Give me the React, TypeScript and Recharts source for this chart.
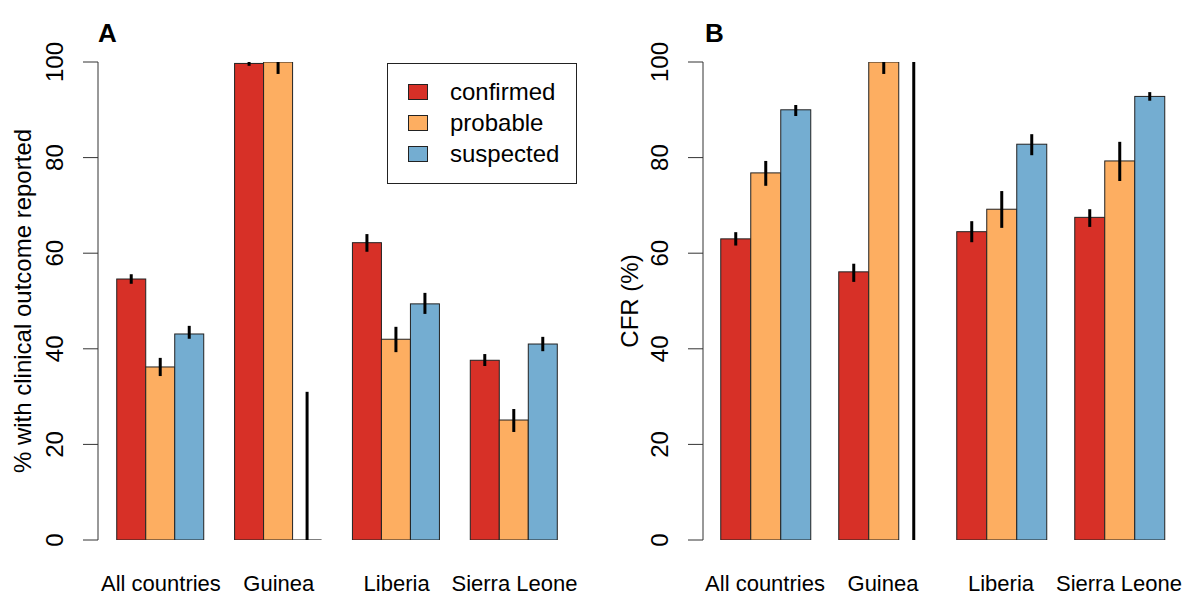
import React from 'react';
import { BarChart, Bar, XAxis, YAxis, ErrorBar, Legend } from 'recharts';

const countries = ['All countries', 'Guinea', 'Liberia', 'Sierra Leone'];
const seriesKeys = ['confirmed', 'probable', 'suspected'];
const seriesColors = ['#D73027', '#FDAE61', '#74ADD1'];
const yTicks = [0, 20, 40, 60, 80, 100];

// panel A: % with clinical outcome reported, with [low, high] intervals
const reportedConfirmed = [54.6, 99.7, 62.2, 37.6];
const reportedConfirmedCI = [[53.6, 55.6], [99.2, 100], [60.3, 64.0], [36.4, 38.9]];
const reportedProbable = [36.2, 100, 42.0, 25.1];
const reportedProbableCI = [[34.3, 38.1], [97.5, 100], [39.3, 44.6], [22.6, 27.4]];
const reportedSuspected = [43.1, 0, 49.4, 41.0];
const reportedSuspectedCI = [[42.1, 44.8], [0, 31], [47.3, 51.7], [39.5, 42.5]];

// panel B: CFR (%)
const cfrConfirmed = [63.0, 56.1, 64.5, 67.5];
const cfrConfirmedCI = [[61.6, 64.4], [54.0, 57.8], [62.3, 66.7], [65.5, 69.2]];
const cfrProbable = [76.8, 100, 69.2, 79.3];
const cfrProbableCI = [[74.1, 79.3], [97.5, 100], [65.3, 73.0], [75.1, 83.3]];
const cfrSuspected = [90.0, 0, 82.8, 92.8];
const cfrSuspectedCI = [[88.7, 91.0], [0, 100], [80.5, 84.9], [91.9, 93.7]];

function buildRows(vals: number[][], cis: number[][][]) {
  return countries.map((country, i) => {
    const row: any = { country };
    seriesKeys.forEach((k, j) => {
      const v = vals[j][i];
      row[k] = v;
      row[k + 'Err'] = [v - cis[j][i][0], cis[j][i][1] - v];
    });
    return row;
  });
}

const reportedRows = buildRows(
  [reportedConfirmed, reportedProbable, reportedSuspected],
  [reportedConfirmedCI, reportedProbableCI, reportedSuspectedCI]
);
const cfrRows = buildRows(
  [cfrConfirmed, cfrProbable, cfrSuspected],
  [cfrConfirmedCI, cfrProbableCI, cfrSuspectedCI]
);

const FONT = '"Liberation Sans", Arial, sans-serif';

const makeShape = (drawEmpty: boolean) => (props: any) => {
  const { x, y, width, height, fill } = props;
  if (!height) {
    return drawEmpty ? (
      <line x1={x} x2={x + width} y1={y} y2={y} stroke="#555" strokeWidth={1.5} />
    ) : (
      <g />
    );
  }
  return <rect x={x} y={y} width={width} height={height} fill={fill} stroke="#222" strokeWidth={1} />;
};

const YTick = (props: any) => {
  const { x, y, payload } = props;
  return (
    <text x={x} y={y} transform={`rotate(-90, ${x}, ${y})`} textAnchor="middle" fontSize={24} fill="#000">
      {payload.value}
    </text>
  );
};

const XTick = (props: any) => {
  const { x, y, payload } = props;
  return (
    <text x={x} y={y + 51} textAnchor="middle" fontSize={22} fill="#000">
      {payload.value}
    </text>
  );
};

const LegendBox = (props: any) => (
  <div
    style={{
      width: 190,
      height: 121,
      border: '1px solid #222',
      boxSizing: 'border-box',
      paddingTop: 12,
      paddingLeft: 20,
      background: '#fff',
    }}
  >
    {(props.payload || []).map((p: any) => (
      <div key={p.value} style={{ display: 'flex', alignItems: 'center', height: 31 }}>
        <div style={{ width: 20, height: 16, background: p.color, border: '1px solid #222', boxSizing: 'border-box' }} />
        <span style={{ marginLeft: 22, fontSize: 24, color: '#000', lineHeight: '24px' }}>{p.value}</span>
      </div>
    ))}
  </div>
);

function Panel({ rows, axisWidth, width, rightMargin, padLeft, showLegend, drawEmpty }: any) {
  return (
    <BarChart
      width={width}
      height={597}
      data={rows}
      margin={{ top: 62, right: rightMargin, bottom: 0, left: 0 }}
      barCategoryGap="12.5%"
      barGap={0}
    >
      <XAxis
        dataKey="country"
        axisLine={false}
        tickLine={false}
        tickSize={0}
        tickMargin={0}
        height={57}
        interval={0}
        padding={{ left: padLeft, right: 0 }}
        tick={<XTick />}
      />
      <YAxis
        type="number"
        domain={[0, 100]}
        allowDataOverflow
        ticks={yTicks}
        width={axisWidth}
        tickSize={15}
        tickMargin={20}
        axisLine={{ stroke: '#333', strokeWidth: 1 }}
        tickLine={{ stroke: '#333', strokeWidth: 1 }}
        tick={<YTick />}
      />
      {showLegend && (
        <Legend
          layout="horizontal"
          verticalAlign="middle"
          align="center"
          wrapperStyle={{ position: 'absolute', top: 63, left: 387, width: 190, height: 121 }}
          content={<LegendBox />}
        />
      )}
      {seriesKeys.map((k, i) => (
        <Bar
          key={k}
          dataKey={k}
          name={k}
          fill={seriesColors[i]}
          isAnimationActive={false}
          shape={makeShape(drawEmpty)}
        >
          <ErrorBar dataKey={k + 'Err'} width={0} stroke="#000" strokeWidth={3} />
        </Bar>
      ))}
    </BarChart>
  );
}

export default function App() {
  return (
    <div
      style={{
        position: 'absolute',
        left: 0,
        top: 0,
        width: 1184,
        height: 597,
        background: '#fff',
        fontFamily: FONT,
        overflow: 'hidden',
      }}
    >
      <div style={{ position: 'absolute', left: 0, top: 0 }}>
        <Panel rows={reportedRows} axisWidth={98} width={600} rightMargin={26.6} padLeft={4} showLegend drawEmpty />
      </div>
      <div style={{ position: 'absolute', left: 600, top: 0 }}>
        <Panel rows={cfrRows} axisWidth={103} width={584} rightMargin={6} padLeft={3} showLegend={false} drawEmpty={false} />
      </div>
      <div
        style={{
          position: 'absolute',
          left: 23,
          top: 301,
          transform: 'translate(-50%, -50%) rotate(-90deg)',
          whiteSpace: 'nowrap',
          fontSize: 24,
          lineHeight: '24px',
        }}
      >
        % with clinical outcome reported
      </div>
      <div
        style={{
          position: 'absolute',
          left: 630,
          top: 301,
          transform: 'translate(-50%, -50%) rotate(-90deg)',
          whiteSpace: 'nowrap',
          fontSize: 24,
          lineHeight: '24px',
        }}
      >
        CFR (%)
      </div>
      <div style={{ position: 'absolute', left: 98, top: 20, fontSize: 26, lineHeight: '26px', fontWeight: 'bold' }}>A</div>
      <div style={{ position: 'absolute', left: 705, top: 20, fontSize: 26, lineHeight: '26px', fontWeight: 'bold' }}>B</div>
    </div>
  );
}
